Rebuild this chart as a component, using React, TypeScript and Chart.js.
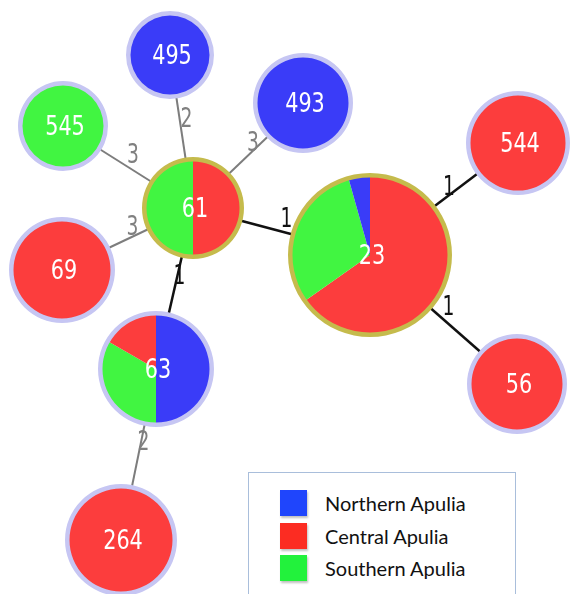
import React, { useEffect, useRef } from 'react';
import { Chart, registerables, ArcElement } from 'chart.js';

Chart.register(...registerables);

// ---- Data ----
const nodeIds = ['495', '493', '545', '544', '61', '69', '23', '63', '56', '264'];
const northern = [1, 1, 0, 0, 0, 0, 1, 3, 0, 0];
const central = [0, 0, 0, 1, 1, 1, 15, 1, 1, 1];
const southern = [0, 0, 1, 0, 1, 0, 7, 2, 0, 0];
const sliceOrder = ['N', 'N', 'S', 'C', 'CS', 'C', 'CSN', 'NSC', 'C', 'C'];

// layout of the network (coordinates in picture units)
const nodeX = [170, 303, 63, 518, 193, 62, 370, 156, 517, 121];
const nodeY = [55, 103, 126, 143, 208, 270, 255, 369, 384, 540];
const nodeR = [44, 50, 45, 52, 51, 53, 82, 58, 50, 56];
const ringKind = ['lav', 'lav', 'lav', 'lav', 'gold', 'lav', 'gold', 'lav', 'lav', 'lav'];

const edgeFrom = ['61', '61', '61', '61', '61', '61', '23', '23', '63'];
const edgeTo = ['495', '493', '545', '69', '23', '63', '544', '56', '264'];
const edgeDist = [2, 3, 3, 3, 1, 1, 1, 1, 2];

const seriesNames = ['Northern Apulia', 'Central Apulia', 'Southern Apulia'];

// ---- Styles ----
const W = 577;
const H = 594;
const sliceColor: Record<string, string> = { N: '#3a3cf8', C: '#fc3d3d', S: '#41f541' };
const legendColor = ['#1f45fc', '#fc2c22', '#22f23c'];
const ringColor: Record<string, string> = { lav: '#c6c6f3', gold: '#c5bb4c' };

function seriesValue(key: string, i: number) {
  if (key === 'N') return northern[i];
  if (key === 'C') return central[i];
  return southern[i];
}

function narrowText(ctx: CanvasRenderingContext2D, text: string, x: number, y: number, sx: number) {
  ctx.save();
  ctx.translate(x, y);
  ctx.scale(sx, 1);
  ctx.fillText(text, 0, 0);
  ctx.restore();
}

const nodePlugin = {
  id: 'mstNodes',
  afterDatasetsDraw(chart: any) {
    const ctx = chart.ctx as CanvasRenderingContext2D;
    const xs = chart.scales.x;
    const ys = chart.scales.y;
    const unit = Math.abs(xs.getPixelForValue(1) - xs.getPixelForValue(0));

    // edge labels
    ctx.save();
    ctx.font = '26px "DejaVu Sans"';
    ctx.textAlign = 'center';
    ctx.textBaseline = 'middle';
    edgeFrom.forEach((f, k) => {
      const a = nodeIds.indexOf(f);
      const b = nodeIds.indexOf(edgeTo[k]);
      const mx = (xs.getPixelForValue(nodeX[a]) + xs.getPixelForValue(nodeX[b])) / 2;
      const my = (ys.getPixelForValue(nodeY[a]) + ys.getPixelForValue(nodeY[b])) / 2;
      ctx.fillStyle = edgeDist[k] === 1 ? '#111111' : '#808080';
      narrowText(ctx, String(edgeDist[k]), mx + 5, my - 11, 0.72);
    });
    ctx.restore();

    // nodes
    nodeIds.forEach((id, i) => {
      const cx = xs.getPixelForValue(nodeX[i]);
      const cy = ys.getPixelForValue(nodeY[i]);
      const r = nodeR[i] * unit;
      const keys = sliceOrder[i].split('');
      const total = keys.reduce((s, k) => s + seriesValue(k, i), 0);
      let ang = -Math.PI / 2;
      keys.forEach((k) => {
        const v = seriesValue(k, i);
        if (!v) return;
        const span = (v / total) * Math.PI * 2;
        const arc: any = new (ArcElement as any)({
          x: cx, y: cy, startAngle: ang, endAngle: ang + span,
          innerRadius: 0, outerRadius: r - 3, circumference: span,
        });
        arc.options = {
          backgroundColor: sliceColor[k], borderColor: sliceColor[k], borderWidth: 0,
          borderAlign: 'center', borderRadius: 0, offset: 0, spacing: 0, circular: true,
          borderDash: [], borderDashOffset: 0, borderJoinStyle: 'round',
        };
        arc.draw(ctx);
        ang += span;
      });
      const ring: any = new (ArcElement as any)({
        x: cx, y: cy, startAngle: -Math.PI / 2, endAngle: Math.PI * 1.5,
        innerRadius: r - 4.5, outerRadius: r, circumference: Math.PI * 2,
      });
      ring.options = {
        backgroundColor: ringColor[ringKind[i]], borderColor: ringColor[ringKind[i]], borderWidth: 0,
        borderAlign: 'center', borderRadius: 0, offset: 0, spacing: 0, circular: true,
        borderDash: [], borderDashOffset: 0, borderJoinStyle: 'round',
      };
      ring.draw(ctx);

      ctx.save();
      ctx.font = '26px "DejaVu Sans"';
      ctx.fillStyle = '#ffffff';
      ctx.textAlign = 'center';
      ctx.textBaseline = 'middle';
      narrowText(ctx, id, cx + 2, cy + 2, 0.8);
      ctx.restore();
    });
  },
};

export default function App() {
  const ref = useRef<HTMLCanvasElement | null>(null);

  useEffect(() => {
    document.body.style.margin = '0';
    const canvas = ref.current;
    if (!canvas) return;
    const datasets = edgeFrom.map((f, k) => {
      const a = nodeIds.indexOf(f);
      const b = nodeIds.indexOf(edgeTo[k]);
      return {
        type: 'line' as const,
        label: `${f}-${edgeTo[k]}`,
        data: [
          { x: nodeX[a], y: nodeY[a] },
          { x: nodeX[b], y: nodeY[b] },
        ],
        showLine: true,
        borderColor: edgeDist[k] === 1 ? '#111111' : '#7d7d7d',
        borderWidth: edgeDist[k] === 1 ? 2.5 : 2,
        pointRadius: 0,
        fill: false,
      };
    });
    const chart = new Chart(canvas, {
      type: 'scatter',
      data: { datasets: datasets as any },
      options: {
        animation: false,
        responsive: false,
        maintainAspectRatio: false,
        events: [],
        layout: { padding: 0 },
        scales: {
          x: { type: 'linear', min: 0, max: W, display: false },
          y: { type: 'linear', min: 0, max: H, reverse: true, display: false },
        },
        plugins: { legend: { display: false }, tooltip: { enabled: false } },
      },
      plugins: [nodePlugin],
    });
    return () => chart.destroy();
  }, []);

  return (
    <div style={{ position: 'relative', width: W, height: H, overflow: 'hidden', background: '#ffffff' }}>
      <canvas ref={ref} width={W} height={H} style={{ display: 'block', width: W, height: H }} />
      <div
        style={{
          position: 'absolute', left: 248, top: 472, width: 268, height: 140,
          border: '1px solid #a9bedb', background: '#ffffff', boxSizing: 'border-box',
        }}
      >
        {seriesNames.map((name, i) => (
          <div key={name} style={{ position: 'absolute', left: 31, top: 17 + i * 32.5, display: 'flex', alignItems: 'center' }}>
            <div style={{ width: 27, height: 26, background: legendColor[i], boxShadow: '1px 2px 2px rgba(0,0,0,0.25)' }} />
            <span style={{ marginLeft: 18, font: '20px Lato', color: '#111111' }}>{name}</span>
          </div>
        ))}
      </div>
    </div>
  );
}
